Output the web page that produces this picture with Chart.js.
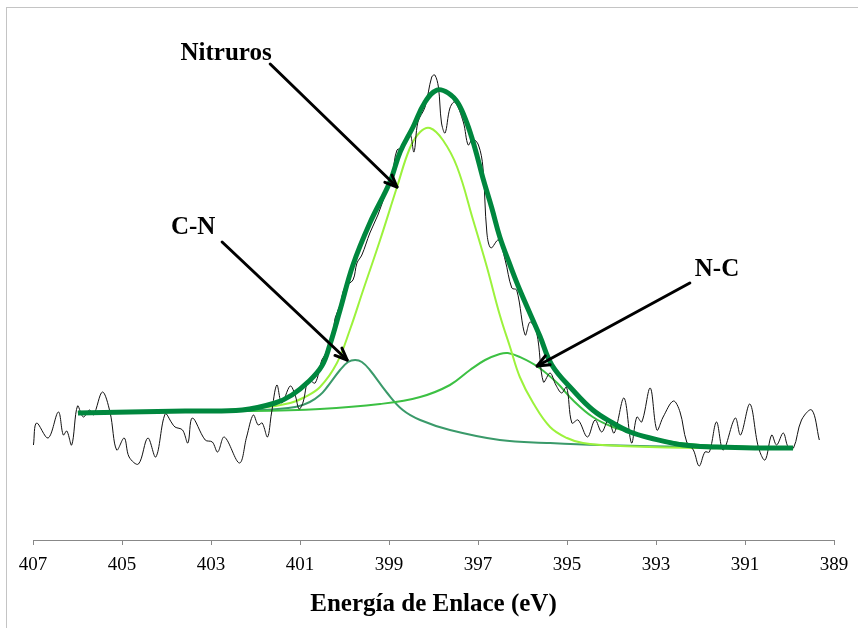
<!DOCTYPE html>
<html>
<head>
<meta charset="utf-8">
<script src="https://cdn.jsdelivr.net/npm/chart.js@4.4.1/dist/chart.umd.min.js"></script>
<style>
  body { margin: 0; background: #fff; }
  .wrap { position: relative; width: 858px; height: 628px; overflow: hidden; }
  .frame { position: absolute; left: 6px; top: 7px; width: 900px; height: 700px; border: 1px solid #c4c4c4; }
  canvas { position: absolute; left: 0; top: 0; }
</style>
</head>
<body>
<div class="wrap">
  <div class="frame"></div>
  <canvas id="xps" width="858" height="628"></canvas>
</div>
<script>
// binding energy (eV) and intensity (a.u.)
const rawEnergy = [406.99,406.92,406.66,406.43,406.32,406.24,406.13,406.00,405.87,405.73,405.64,405.44,405.27,405.12,404.95,404.84,404.63,404.42,404.24,404.03,403.88,403.81,403.64,403.52,403.42,403.13,402.97,402.85,402.70,402.36,402.20,402.05,401.94,401.85,401.73,401.64,401.52,401.41,401.22,401.11,401.02,400.93,400.81,400.66,400.51,400.44,400.26,400.21,400.10,399.99,399.81,399.72,399.61,399.43,399.25,399.09,398.93,398.82,398.69,398.53,398.44,398.35,398.19,398.04,397.97,397.89,397.82,397.74,397.63,397.52,397.33,397.22,397.12,396.99,396.89,396.80,396.71,396.54,396.39,396.24,396.13,395.94,395.83,395.68,395.53,395.38,395.25,395.12,395.01,394.89,394.75,394.54,394.37,394.22,394.07,393.94,393.72,393.55,393.43,393.32,393.13,392.98,392.84,392.61,392.46,392.31,392.16,392.03,391.90,391.80,391.64,391.49,391.22,391.10,390.89,390.70,390.55,390.40,390.29,390.14,390.03,389.91,389.73,389.50,389.33];
const rawCounts = [19.0,23.4,20.4,25.6,21.0,21.8,19.0,26.8,24.6,26.0,25.0,29.6,25.6,18.0,20.4,16.6,15.2,20.4,16.6,25.2,23.4,22.6,22.0,19.4,24.4,20.0,19.6,17.6,20.6,15.4,20.6,25.0,23.0,23.4,20.6,25.4,31.0,27.4,30.8,29.0,26.2,27.6,32.0,31.4,36.0,37.0,41.4,44.4,47.0,50.6,52.0,55.4,57.0,61.4,65.0,69.0,73.0,78.0,78.4,81.2,77.6,83.6,86.6,92.6,93.0,90.6,83.4,81.4,86.4,87.6,83.6,79.0,80.2,79.0,74.6,61.4,58.4,60.0,56.0,50.4,50.0,41.0,43.6,41.4,31.6,33.4,31.0,29.4,30.6,23.4,24.0,20.6,24.0,21.6,24.0,21.4,28.4,19.4,24.6,23.6,30.4,22.0,24.6,27.8,25.6,19.6,18.0,14.8,17.6,17.6,23.6,18.0,24.4,21.0,27.2,18.6,16.0,21.0,19.0,21.4,18.6,18.4,24.0,26.0,20.0];

// fitted envelope
const envEnergy = [405.99,404.82,403.58,402.30,401.56,401.18,400.82,400.51,400.33,400.10,399.81,399.43,398.98,398.75,398.46,398.19,397.92,397.67,397.45,397.25,397.07,396.89,396.69,396.51,396.28,396.06,395.61,395.34,394.87,394.42,393.97,393.58,393.13,392.39,391.63,390.78,389.92];
const envCounts = [25.4,25.6,25.8,26.0,27.4,29.0,31.6,34.8,39.0,46.0,55.0,63.4,71.6,77.6,82.6,87.6,90.0,89.4,87.4,83.4,78.4,72.4,66.4,60.6,55.0,50.0,40.8,35.0,30.0,26.0,23.4,21.6,20.4,19.0,18.6,18.4,18.4];

// component: nitruros
const nitEnergy = [405.99,403.25,401.90,401.22,400.89,400.55,400.17,399.88,399.58,399.20,398.82,398.53,398.30,398.08,397.79,397.47,397.11,396.80,396.51,396.28,396.06,395.76,395.38,395.00,394.64,393.81,392.01,389.92];
const nitCounts = [25.6,25.8,26.4,27.4,28.6,30.6,35.4,42.0,50.0,60.0,70.6,78.4,81.6,82.4,80.0,74.6,64.0,54.6,45.0,38.6,32.6,27.4,22.6,20.4,19.4,18.8,18.4,18.2];

// component: C-N
const cnEnergy = [405.99,403.25,401.90,401.11,400.78,400.55,400.39,400.10,399.92,399.76,399.61,399.43,399.04,398.69,398.30,397.63,396.51,395.38,394.26,392.01,389.92];
const cnCounts = [25.6,25.8,26.0,26.6,27.6,29.0,30.6,34.0,35.6,36.0,35.6,34.0,29.4,26.0,24.0,22.0,20.0,19.4,19.0,18.6,18.4];

// component: N-C
const ncEnergy = [405.99,402.12,400.55,399.20,398.30,397.63,397.18,396.84,396.51,396.33,396.06,395.65,395.22,394.87,394.42,393.97,393.58,392.91,392.01,389.92];
const ncCounts = [25.6,25.8,26.2,27.2,28.6,31.0,34.0,36.0,37.2,37.4,36.6,34.6,31.4,28.0,24.6,22.6,21.6,20.0,19.0,18.4];

const xTicks = [407,405,403,401,399,397,395,393,391,389];

// labels and arrows, in (eV, a.u.)
const labelText = ['Nitruros','C-N','N-C'];
const labelPos = [[402.66,97.2],[403.40,62.4],[391.63,54.0]];
const arrowFrom = [[401.67,95.2],[402.75,59.6],[392.24,51.4]];
const arrowTo = [[398.82,70.6],[399.94,36.0],[395.67,34.8]];

const pts = (xs, ys) => xs.map((x, i) => ({ x: x, y: ys[i] }));

const line = (data, color, width, tension) => ({
  data: data, borderColor: color, borderWidth: width, pointRadius: 0,
  fill: false, tension: tension
});

const annotate = {
  id: 'annotate',
  afterDatasetsDraw(chart) {
    const { ctx, scales: { x, y } } = chart;
    ctx.save();
    ctx.strokeStyle = '#000';
    ctx.lineWidth = 3;
    ctx.lineCap = 'round';
    ctx.lineJoin = 'round';
    arrowFrom.forEach((f, i) => {
      const x0 = x.getPixelForValue(f[0]), y0 = y.getPixelForValue(f[1]);
      const x1 = x.getPixelForValue(arrowTo[i][0]), y1 = y.getPixelForValue(arrowTo[i][1]);
      const a = Math.atan2(y1 - y0, x1 - x0);
      ctx.beginPath();
      ctx.moveTo(x0, y0);
      ctx.lineTo(x1, y1);
      ctx.stroke();
      ctx.beginPath();
      ctx.moveTo(x1 - 13 * Math.cos(a - 0.4), y1 - 13 * Math.sin(a - 0.4));
      ctx.lineTo(x1, y1);
      ctx.lineTo(x1 - 13 * Math.cos(a + 0.4), y1 - 13 * Math.sin(a + 0.4));
      ctx.stroke();
    });
    ctx.fillStyle = '#000';
    ctx.font = 'bold 25px "Liberation Serif"';
    ctx.textAlign = 'center';
    ctx.textBaseline = 'middle';
    labelText.forEach((t, i) => {
      ctx.fillText(t, x.getPixelForValue(labelPos[i][0]), y.getPixelForValue(labelPos[i][1]));
    });
    ctx.restore();
  }
};

new Chart(document.getElementById('xps'), {
  type: 'line',
  data: {
    datasets: [
      line(pts(envEnergy, envCounts), '#00873e', 5, 0.4),
      line(pts(rawEnergy, rawCounts), '#111', 1, 0.35),
      line(pts(nitEnergy, nitCounts), '#9cf23c', 2, 0.4),
      line(pts(ncEnergy, ncCounts), '#3cc043', 2, 0.4),
      line(pts(cnEnergy, cnCounts), '#3a9a6a', 2, 0.4)
    ]
  },
  options: {
    responsive: false,
    animation: false,
    layout: { padding: { top: 20, left: 33, right: 24, bottom: 0 } },
    plugins: { legend: { display: false }, tooltip: { enabled: false } },
    scales: {
      x: {
        type: 'linear',
        reverse: true,
        min: 389,
        max: 407,
        afterBuildTicks: s => { s.ticks = xTicks.map(v => ({ value: v })); },
        afterFit: s => { s.height = 88; },
        ticks: { color: '#000', padding: 9, font: { family: 'Liberation Serif', size: 19 } },
        grid: { drawOnChartArea: false, drawTicks: true, tickLength: 5, color: '#888' },
        border: { color: '#888', width: 1 },
        title: {
          display: true,
          text: 'Energía de Enlace (eV)',
          color: '#000',
          padding: { top: 0, bottom: 8 },
          font: { family: 'Liberation Serif', size: 25, weight: 'bold' }
        }
      },
      y: { display: false, min: 0, max: 104 }
    }
  },
  plugins: [annotate]
});
</script>
</body>
</html>
